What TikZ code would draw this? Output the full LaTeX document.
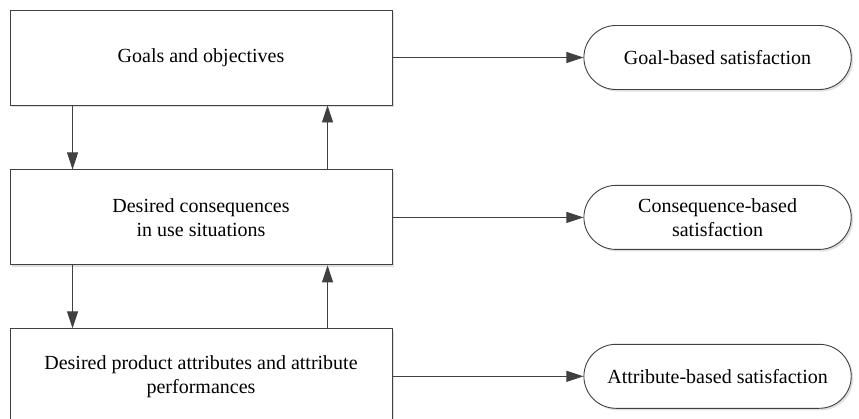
\documentclass[tikz,border=0pt]{standalone}
\usepackage{fontspec}
\setmainfont{Liberation Serif}
\usetikzlibrary{positioning,shapes.misc,arrows.meta,shadows}

\begin{document}
\begin{tikzpicture}[x=1pt, y=-1pt, color=black!75, line width=0.9pt,
                    box node/.style={rectangle,draw,fill=white,text=black,minimum width=382pt,minimum height=95pt,
                                     align=center,font=\fontsize{20}{24}\selectfont,
                                     drop shadow={shadow xshift=2pt,shadow yshift=-2pt,fill=black!12,opacity=1}},
                    end node/.style={rounded rectangle,draw,fill=white,text=black,minimum width=274pt,minimum height=64pt,
                                     align=center,font=\fontsize{20}{24}\selectfont,
                                     drop shadow={shadow xshift=2pt,shadow yshift=-2pt,fill=black!12,opacity=1}},
                    link/.style={-{Triangle[length=17pt,width=11pt]}}]

  \clip (0,0) rectangle (859,418);

  \node[box node] (goal) at (201,57.5) {Goals and objectives};
  \node[box node] (cons) [below=64pt of goal] {Desired consequences\\in use situations};
  \node[box node] (attr) [below=63pt of cons] {Desired product attributes and attribute\\performances};

  \node[end node] (goalsat) [right=191pt of goal] {Goal-based satisfaction};
  \node[end node] (conssat) [right=191pt of cons] {Consequence-based\\satisfaction};
  \node[end node] (attrsat) [right=191pt of attr] {Attribute-based satisfaction};

  % down the left side, back up the right side
  \draw[link] ([xshift=63pt]goal.south west) -- ([xshift=63pt]cons.north west);
  \draw[link] ([xshift=318pt]cons.north west) -- ([xshift=318pt]goal.south west);
  \draw[link] ([xshift=63pt]cons.south west) -- ([xshift=63pt]attr.north west);
  \draw[link] ([xshift=318pt]attr.north west) -- ([xshift=318pt]cons.south west);

  \draw[link] (goal) -- (goalsat);
  \draw[link] (cons) -- (conssat);
  \draw[link] (attr) -- (attrsat);

\end{tikzpicture}
\end{document}
